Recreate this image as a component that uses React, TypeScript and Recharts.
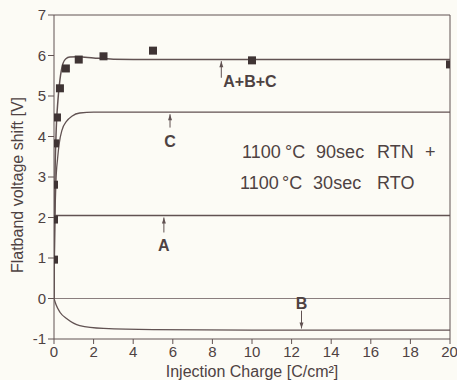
import {
  ComposedChart,
  Line,
  Scatter,
  XAxis,
  YAxis,
  ReferenceLine,
  ReferenceDot,
} from 'recharts';

// measured points (squares)
const MEAS_X = [0, 0, 0, 0.05, 0.15, 0.3, 0.6, 1.25, 2.5, 5, 10, 20];
const MEAS_Y = [0.96, 1.95, 2.81, 3.83, 4.47, 5.19, 5.68, 5.9, 5.98, 6.12, 5.88, 5.78];

// fitted curves
const ABC_X = [0, 0.02, 0.05, 0.1, 0.2, 0.3, 0.45, 0.6, 0.8, 1.2, 2, 3, 5, 10, 20];
const ABC_Y = [0, 1.5, 3.0, 4.0, 4.9, 5.4, 5.8, 5.92, 5.96, 5.97, 5.94, 5.91, 5.9, 5.9, 5.9];

const C_X = [0, 0.02, 0.05, 0.1, 0.18, 0.27, 0.4, 0.64, 0.9, 1.3, 2, 5, 10, 20];
const C_Y = [0, 1.0, 2.0, 2.9, 3.45, 3.85, 4.15, 4.38, 4.5, 4.58, 4.6, 4.6, 4.6, 4.6];

const A_X = [0, 20];
const A_Y = [2.05, 2.05];

const B_X = [0, 0.1, 0.3, 0.65, 1.3, 2.5, 5, 10, 20];
const B_Y = [0, -0.15, -0.34, -0.5, -0.67, -0.74, -0.77, -0.78, -0.78];

const X_TICKS = [0, 2, 4, 6, 8, 10, 12, 14, 16, 18, 20];
const Y_TICKS = [-1, 0, 1, 2, 3, 4, 5, 6, 7];

// annotation arrows: label, shaft x, tail y, tip y, label x, label y
const ANN_LABEL = ['A+B+C', 'C', 'A', 'B'];
const ANN_X = [8.45, 5.86, 5.55, 12.5];
const ANN_TAIL = [5.45, 4.22, 1.63, -0.3];
const ANN_TIP = [5.86, 4.55, 2.0, -0.74];
const ANN_LX = [8.55, 5.86, 5.55, 12.5];
const ANN_LY = [5.36, 3.9, 1.33, -0.1];

const INK = '#4e4242';
const LINE = '#615252';
const FONT = '"Liberation Sans", Arial, sans-serif';

const zip = (xs: number[], ys: number[]) => xs.map((x, i) => ({ x, y: ys[i] }));

const measured = zip(MEAS_X, MEAS_Y);
const abc = zip(ABC_X, ABC_Y);
const cCurve = zip(C_X, C_Y);
const aCurve = zip(A_X, A_Y);
const bCurve = zip(B_X, B_Y);

const Square = (p: any) => (
  <rect x={p.cx - 4} y={p.cy - 4} width={8} height={8} fill="#3f3434" />
);

const Arrow = (p: any) => {
  const { x1, y1, x2, y2 } = p;
  const dir = y2 < y1 ? 1 : -1;
  return (
    <g>
      <line x1={x1} y1={y1} x2={x2} y2={y2} stroke={LINE} strokeWidth={1} />
      <polygon
        points={`${x2},${y2} ${x2 - 2},${y2 + dir * 6} ${x2 + 2},${y2 + dir * 6}`}
        fill={LINE}
      />
    </g>
  );
};

const YLabel = (p: any) => {
  const vb = p.viewBox;
  const x = vb.x + 17;
  const y = vb.y + vb.height / 2 + 8;
  return (
    <text
      transform={`translate(${x},${y}) rotate(-90)`}
      textAnchor="middle"
      dominantBaseline="central"
      fill={INK}
      fontSize={16}
      fontFamily={FONT}
    >
      Flatband voltage shift [V]
    </text>
  );
};

export default function App() {
  return (
    <div style={{ position: 'absolute', left: 0, top: 0, background: '#fcfbf5' }}>
      <ComposedChart
        width={457}
        height={380}
        margin={{ top: 15, right: 7, bottom: 0, left: 0 }}
      >
        <XAxis
          type="number"
          dataKey="x"
          domain={[0, 20]}
          ticks={X_TICKS}
          allowDataOverflow
          height={41}
          tickSize={5}
          tickMargin={2}
          stroke={LINE}
          tick={{ fill: INK, fontSize: 15, fontFamily: FONT }}
          label={{
            value: 'Injection Charge [C/cm²]',
            position: 'insideBottom',
            offset: 3,
            fill: INK,
            fontSize: 16,
            fontFamily: FONT,
          }}
        />
        <YAxis
          type="number"
          dataKey="y"
          domain={[-1, 7]}
          ticks={Y_TICKS}
          allowDataOverflow
          width={54}
          tickSize={6}
          tickMargin={2}
          stroke={LINE}
          tick={{ fill: INK, fontSize: 15, fontFamily: FONT }}
          label={{ content: YLabel }}
        />
        <ReferenceLine y={7} stroke={LINE} />
        <ReferenceLine x={20} stroke={LINE} />
        <ReferenceLine y={0} stroke="#8a7e7e" />

        <Line data={aCurve} dataKey="y" type="linear" stroke={LINE} strokeWidth={1.3} dot={false} isAnimationActive={false} />
        <Line data={bCurve} dataKey="y" type="monotone" stroke={LINE} strokeWidth={1.3} dot={false} isAnimationActive={false} />
        <Line data={cCurve} dataKey="y" type="monotone" stroke={LINE} strokeWidth={1.3} dot={false} isAnimationActive={false} />
        <Line data={abc} dataKey="y" type="monotone" stroke={LINE} strokeWidth={1.5} dot={false} isAnimationActive={false} />
        <Scatter data={measured} dataKey="y" shape={Square} isAnimationActive={false} />

        {ANN_LABEL.map((lab, i) => (
          <ReferenceLine
            key={`arr-${lab}`}
            segment={[
              { x: ANN_X[i], y: ANN_TAIL[i] },
              { x: ANN_X[i], y: ANN_TIP[i] },
            ]}
            shape={Arrow}
          />
        ))}
        {ANN_LABEL.map((lab, i) => (
          <ReferenceDot
            key={`lab-${lab}`}
            x={ANN_LX[i]}
            y={ANN_LY[i]}
            shape={(p: any) => (
              <text
                x={p.cx}
                y={p.cy + 6}
                textAnchor={i === 0 ? 'start' : 'middle'}
                fill={INK}
                fontSize={16}
                fontWeight="bold"
                fontFamily={FONT}
              >
                {lab}
              </text>
            )}
          />
        ))}
        <ReferenceDot
          x={9.5}
          y={3.63}
          shape={(p: any) => (
            <text y={p.cy + 6.5} fill={INK} fontSize={18} fontFamily={FONT}>
              <tspan x={p.cx}>1100</tspan>
              <tspan x={p.cx + 43}>°C</tspan>
              <tspan x={p.cx + 74}>90sec</tspan>
              <tspan x={p.cx + 135}>RTN</tspan>
              <tspan x={p.cx + 183}>+</tspan>
            </text>
          )}
        />
        <ReferenceDot
          x={9.4}
          y={2.86}
          shape={(p: any) => (
            <text y={p.cy + 6.5} fill={INK} fontSize={18} fontFamily={FONT}>
              <tspan x={p.cx}>1100</tspan>
              <tspan x={p.cx + 42}>°C</tspan>
              <tspan x={p.cx + 73}>30sec</tspan>
              <tspan x={p.cx + 137}>RTO</tspan>
            </text>
          )}
        />
      </ComposedChart>
    </div>
  );
}
